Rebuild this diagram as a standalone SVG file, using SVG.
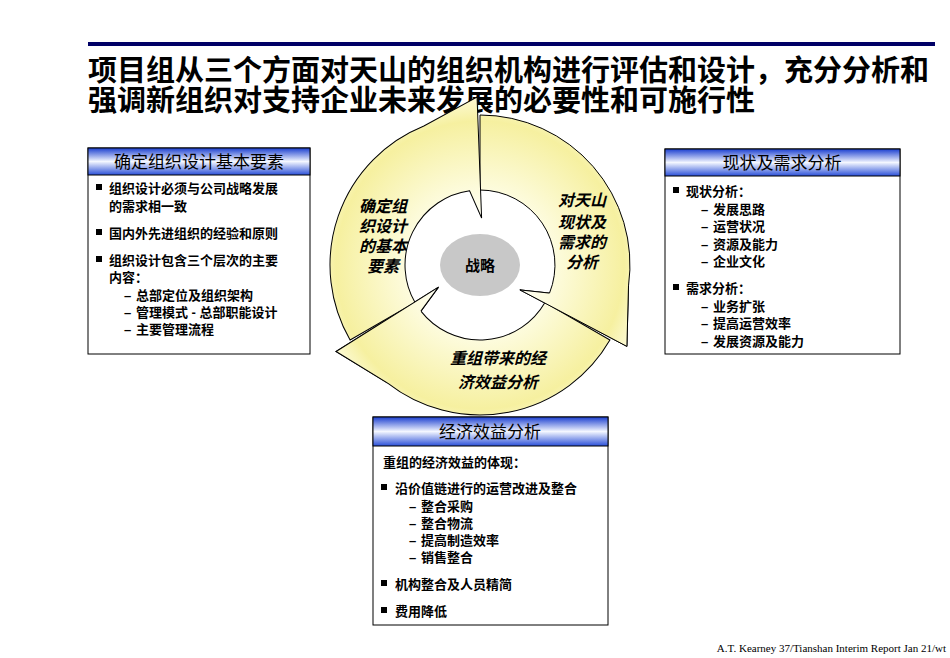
<svg xmlns="http://www.w3.org/2000/svg" xmlns:xlink="http://www.w3.org/1999/xlink" width="950" height="658" viewBox="0 0 950 658">
<defs>
<linearGradient id="hdr" x1="0" y1="0" x2="0" y2="1">
<stop offset="0" stop-color="#1B3FD0"/><stop offset="0.5" stop-color="#F4F7FF"/><stop offset="1" stop-color="#2A4FD8"/>
</linearGradient>
<radialGradient id="ring" gradientUnits="userSpaceOnUse" cx="480" cy="265" r="180">
<stop offset="0.3" stop-color="#FFFFF0"/><stop offset="0.8" stop-color="#F6F0A0"/><stop offset="1" stop-color="#FFFFF0"/>
</radialGradient>
<path id="arrow" d="M480,115 A150,150 0 0 1 628.5,285.9 L626.9,346.4 L519.9,289.9 L549.5,293.1 A75,75 0 0 0 480,190 Z"/>
<path id="headfill" d="M628.5,285.9 L626.9,346.4 L519.9,289.9 L549.5,293.1 Z"/>
<path id="headline" d="M628.5,285.9 L626.9,346.4 L519.9,289.9 L549.5,293.1"/>
</defs>
<style>
text{font-family:"Liberation Sans","Noto Sans CJK SC",sans-serif;fill:#000}
.t{font-size:29px;font-weight:bold}
.h{font-size:17px;text-anchor:middle}
.b{font-size:13px;font-weight:bold}
.lab{font-size:16px;font-weight:bold;font-style:italic;text-anchor:middle}
.box{fill:#fff;stroke:#000;stroke-width:1}
.hd{fill:url(#hdr);stroke:#000;stroke-width:1}
.ar{fill:url(#ring);stroke:#000;stroke-width:1}
.sq{fill:#000}
</style>
<rect width="950" height="658" fill="#fff"/>
<rect x="88" y="42" width="847" height="4" fill="#000066"/>
<text class="t" x="88" y="81">项目组从三个方面对天山的组织机构进行评估和设计，充分分析和</text>
<text class="t" x="88" y="111">强调新组织对支持企业未来发展的必要性和可施行性</text>

<g id="cycle">
<use xlink:href="#arrow" class="ar"/>
<use xlink:href="#arrow" class="ar" transform="rotate(120 480 265)"/>
<use xlink:href="#arrow" class="ar" transform="rotate(240 480 265)"/>
<use xlink:href="#headfill" fill="url(#ring)"/>
<use xlink:href="#headline" fill="none" stroke="#000"/>
<use xlink:href="#headfill" fill="url(#ring)" transform="rotate(120 480 265)"/>
<use xlink:href="#headline" fill="none" stroke="#000" transform="rotate(120 480 265)"/>
<ellipse cx="480" cy="265" rx="40" ry="31" fill="#C8C8C8"/>
<text x="480" y="271" font-size="15" font-weight="bold" text-anchor="middle">战略</text>
<text class="lab" x="383" y="212">确定组</text>
<text class="lab" x="383" y="232">织设计</text>
<text class="lab" x="383" y="252">的基本</text>
<text class="lab" x="383" y="272">要素</text>
<text class="lab" x="582" y="206">对天山</text>
<text class="lab" x="582" y="228">现状及</text>
<text class="lab" x="582" y="248">需求的</text>
<text class="lab" x="582" y="268">分析</text>
<text class="lab" x="498" y="364">重组带来的经</text>
<text class="lab" x="498" y="388">济效益分析</text>
</g>

<g id="left-box">
<rect class="box" x="88" y="148" width="222" height="206"/>
<rect class="hd" x="88" y="148" width="222" height="27"/>
<text class="h" x="199" y="168">确定组织设计基本要素</text>
<rect class="sq" x="96" y="184" width="6" height="6"/>
<text class="b" x="109" y="193">组织设计必须与公司战略发展</text>
<text class="b" x="109" y="211">的需求相一致</text>
<rect class="sq" x="96" y="229" width="6" height="6"/>
<text class="b" x="109" y="238">国内外先进组织的经验和原则</text>
<rect class="sq" x="96" y="256" width="6" height="6"/>
<text class="b" x="109" y="265">组织设计包含三个层次的主要</text>
<text class="b" x="109" y="282">内容：</text>
<text class="b" x="124" y="300">–</text><text class="b" x="136" y="300">总部定位及组织架构</text>
<text class="b" x="124" y="317">–</text><text class="b" x="136" y="317">管理模式 - 总部职能设计</text>
<text class="b" x="124" y="334">–</text><text class="b" x="136" y="334">主要管理流程</text>
</g>

<g id="right-box">
<rect class="box" x="665" y="149" width="235" height="205"/>
<rect class="hd" x="665" y="149" width="235" height="27"/>
<text class="h" x="782" y="169">现状及需求分析</text>
<rect class="sq" x="673" y="187" width="6" height="6"/>
<text class="b" x="686" y="196">现状分析：</text>
<text class="b" x="701" y="214">–</text><text class="b" x="713" y="214">发展思路</text>
<text class="b" x="701" y="231">–</text><text class="b" x="713" y="231">运营状况</text>
<text class="b" x="701" y="249">–</text><text class="b" x="713" y="249">资源及能力</text>
<text class="b" x="701" y="266">–</text><text class="b" x="713" y="266">企业文化</text>
<rect class="sq" x="673" y="284" width="6" height="6"/>
<text class="b" x="686" y="293">需求分析：</text>
<text class="b" x="701" y="311">–</text><text class="b" x="713" y="311">业务扩张</text>
<text class="b" x="701" y="328">–</text><text class="b" x="713" y="328">提高运营效率</text>
<text class="b" x="701" y="346">–</text><text class="b" x="713" y="346">发展资源及能力</text>
</g>

<g id="bottom-box">
<rect class="box" x="373" y="417" width="235" height="208"/>
<rect class="hd" x="373" y="417" width="235" height="29"/>
<text class="h" x="490" y="438">经济效益分析</text>
<text class="b" x="383" y="467">重组的经济效益的体现：</text>
<rect class="sq" x="381" y="484" width="6" height="6"/>
<text class="b" x="395" y="493">沿价值链进行的运营改进及整合</text>
<text class="b" x="409" y="511">–</text><text class="b" x="421" y="511">整合采购</text>
<text class="b" x="409" y="528">–</text><text class="b" x="421" y="528">整合物流</text>
<text class="b" x="409" y="545">–</text><text class="b" x="421" y="545">提高制造效率</text>
<text class="b" x="409" y="562">–</text><text class="b" x="421" y="562">销售整合</text>
<rect class="sq" x="381" y="580" width="6" height="6"/>
<text class="b" x="395" y="589">机构整合及人员精简</text>
<rect class="sq" x="381" y="607" width="6" height="6"/>
<text class="b" x="395" y="616">费用降低</text>
</g>

<text x="946" y="652" font-size="11" text-anchor="end" style="font-family:'Liberation Serif',serif">A.T. Kearney 37/Tianshan Interim Report Jan 21/wt</text>
</svg>
